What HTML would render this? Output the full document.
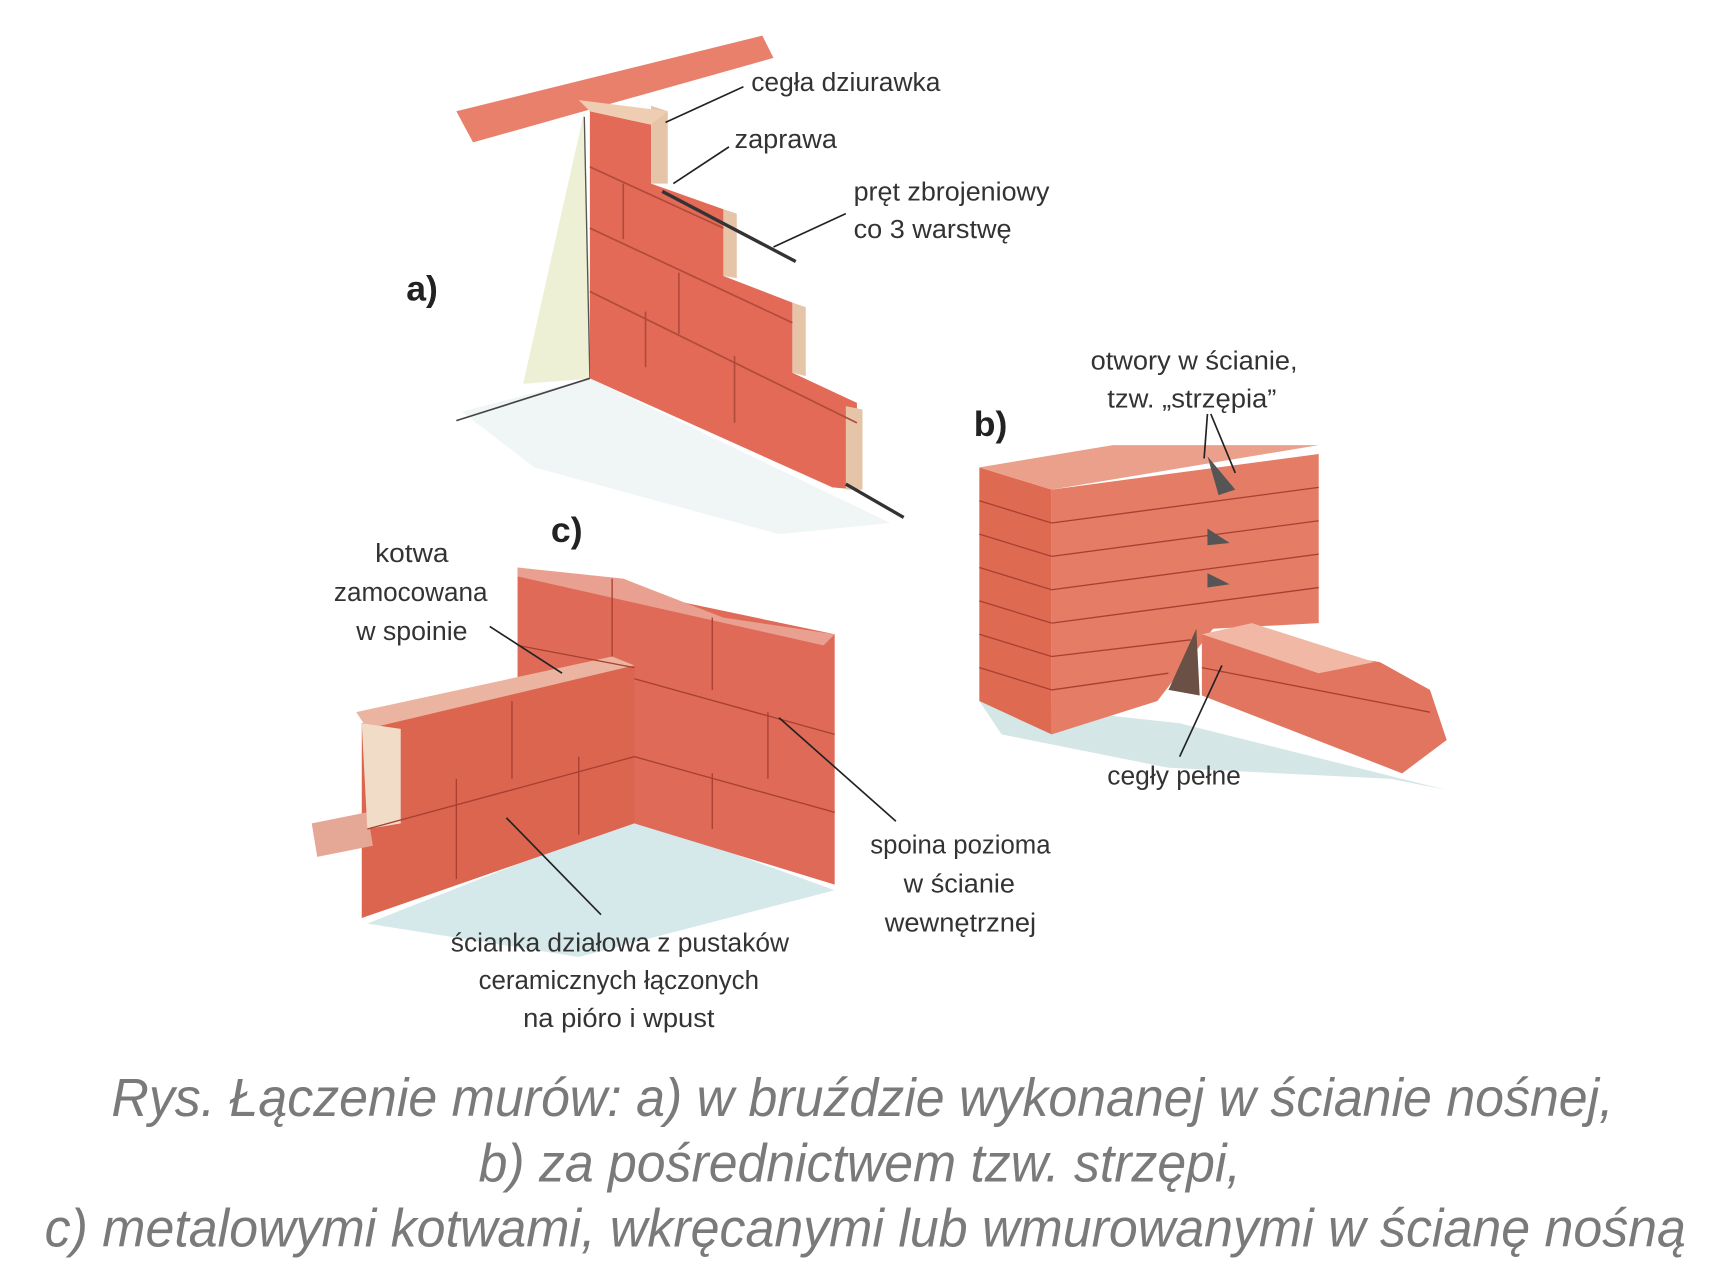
<!DOCTYPE html>
<html><head><meta charset="utf-8"><style>
html,body{margin:0;padding:0;background:#fff;}
svg{display:block}
.l{font-family:"Liberation Sans",sans-serif;font-size:23px;fill:#333;}
.b{font-family:"Liberation Sans",sans-serif;font-size:32px;font-weight:bold;fill:#222;}
.cap{font-family:"Liberation Sans",sans-serif;font-style:italic;font-size:48px;fill:#7a7a7a;}
</style></head><body>
<svg width="1725" height="1283" viewBox="0 0 1550 1153" xmlns="http://www.w3.org/2000/svg">
<rect width="1550" height="1153" fill="#fff"/>
<!-- a) -->
<polygon points="525,100 532,340 470,345" fill="#eef0d6"/>
<polygon points="415,370 530,340 800,470 700,480 480,420" fill="#e6eeee" opacity="0.6"/>
<line x1="410" y1="378" x2="530" y2="340" stroke="#444" stroke-width="1.5"/>
<line x1="525" y1="105" x2="530" y2="340" stroke="#555" stroke-width="1.2"/>
<polygon points="410,100 685,32 695,52 425,128" fill="#e8806c"/>
<polygon points="530,100 585,112 585,165 650,188 650,248 712,272 712,335 770,362 770,440 748,438 530,340" fill="#e26a56"/>
<polygon points="585,95 600,100 600,165 585,165" fill="#e6c4a8"/>
<polygon points="650,188 662,192 662,250 650,248" fill="#e6c4a8"/>
<polygon points="712,272 724,276 724,338 712,335" fill="#e6c4a8"/>
<polygon points="760,365 775,368 775,440 760,440" fill="#e6c4a8"/>
<polygon points="520,90 600,100 585,112 530,100" fill="#efcdb2"/>
<g stroke="#b24a3c" stroke-width="1.5" fill="none">
<line x1="530" y1="150" x2="650" y2="205"/><line x1="530" y1="205" x2="712" y2="290"/><line x1="530" y1="262" x2="770" y2="380"/>
<line x1="560" y1="165" x2="560" y2="215"/><line x1="610" y1="245" x2="610" y2="300"/><line x1="580" y1="280" x2="580" y2="330"/><line x1="660" y1="320" x2="660" y2="380"/>
</g>
<line x1="595" y1="172" x2="715" y2="235" stroke="#333" stroke-width="3"/>
<line x1="760" y1="435" x2="812" y2="465" stroke="#333" stroke-width="3"/>
<text class="b" x="365" y="270">a)</text>
<text class="l" x="675" y="82" textLength="170" lengthAdjust="spacingAndGlyphs">cegła dziurawka</text>
<text class="l" x="660" y="133" textLength="92" lengthAdjust="spacingAndGlyphs">zaprawa</text>
<text class="l" x="767" y="180" textLength="176" lengthAdjust="spacingAndGlyphs">pręt zbrojeniowy</text>
<text class="l" x="767" y="214" textLength="142" lengthAdjust="spacingAndGlyphs">co 3 warstwę</text>
<g stroke="#222" stroke-width="1.5"><line x1="598" y1="110" x2="668" y2="78"/><line x1="605" y1="165" x2="655" y2="132"/><line x1="695" y1="222" x2="760" y2="192"/></g>
<!-- b) -->
<polygon points="880,630 1060,650 1300,710 1250,700 1050,690 900,660" fill="#d5e6e6"/>
<polygon points="880,420 945,440 945,660 880,630" fill="#de6a52"/>
<polygon points="945,440 1185,408 1185,560 1090,565 1040,630 945,660" fill="#e57c66"/>
<polygon points="880,420 1000,400 1185,400 945,440" fill="#eba08c"/>
<polygon points="1080,570 1240,595 1285,620 1300,665 1260,695 1080,625" fill="#e27560"/>
<polygon points="1080,570 1125,560 1235,595 1185,605" fill="#f1b8a6"/>
<g stroke="#a84032" stroke-width="1.2">
<line x1="880" y1="450" x2="945" y2="470"/><line x1="880" y1="480" x2="945" y2="500"/><line x1="880" y1="510" x2="945" y2="530"/><line x1="880" y1="540" x2="945" y2="560"/><line x1="880" y1="570" x2="945" y2="590"/><line x1="880" y1="600" x2="945" y2="620"/>
<line x1="945" y1="470" x2="1185" y2="438"/><line x1="945" y1="500" x2="1185" y2="468"/><line x1="945" y1="530" x2="1185" y2="498"/><line x1="945" y1="560" x2="1185" y2="528"/><line x1="945" y1="590" x2="1070" y2="575"/><line x1="945" y1="620" x2="1050" y2="605"/>
<line x1="1080" y1="600" x2="1285" y2="640"/>
</g>
<polygon points="1085,410 1110,440 1095,445" fill="#555"/>
<polygon points="1085,475 1105,488 1085,490" fill="#555"/>
<polygon points="1085,515 1105,525 1085,528" fill="#555"/>
<polygon points="1050,620 1075,565 1078,625" fill="#6a5045"/>
<text class="b" x="875" y="392">b)</text>
<text class="l" x="980" y="332" textLength="186" lengthAdjust="spacingAndGlyphs">otwory w ścianie,</text>
<text class="l" x="995" y="366" textLength="152" lengthAdjust="spacingAndGlyphs">tzw. „strzępia”</text>
<text class="l" x="995" y="705" textLength="120" lengthAdjust="spacingAndGlyphs">cegły pełne</text>
<g stroke="#222" stroke-width="1.5"><line x1="1085" y1="372" x2="1082" y2="412"/><line x1="1088" y1="372" x2="1110" y2="425"/><line x1="1060" y1="680" x2="1098" y2="598"/></g>
<!-- c) -->
<polygon points="330,830 570,735 750,800 520,860" fill="#d6e9ea"/>
<polygon points="465,510 750,570 750,795 570,740 465,730" fill="#e06a58"/>
<polygon points="465,510 560,520 650,555 750,570 740,580 465,518" fill="#eaa090"/>
<polygon points="325,650 570,598 570,740 325,825" fill="#dc6550"/>
<polygon points="320,640 550,590 570,598 330,655" fill="#eab4a0"/>
<polygon points="280,740 330,730 335,760 285,770" fill="#e6a896"/>
<polygon points="325,650 360,655 360,740 330,745" fill="#f1dcc8"/>
<g stroke="#a84032" stroke-width="1.2">
<line x1="330" y1="745" x2="570" y2="680"/><line x1="570" y1="610" x2="750" y2="660"/><line x1="570" y1="680" x2="750" y2="730"/><line x1="465" y1="580" x2="570" y2="600"/>
<line x1="550" y1="520" x2="550" y2="590"/><line x1="640" y1="555" x2="640" y2="620"/><line x1="690" y1="640" x2="690" y2="700"/><line x1="640" y1="695" x2="640" y2="745"/>
<line x1="460" y1="630" x2="460" y2="700"/><line x1="410" y1="700" x2="410" y2="790"/><line x1="520" y1="680" x2="520" y2="750"/>
</g>
<text class="b" x="495" y="487">c)</text>
<text class="l" x="337" y="505" textLength="66" lengthAdjust="spacingAndGlyphs">kotwa</text>
<text class="l" x="300" y="540" textLength="138" lengthAdjust="spacingAndGlyphs">zamocowana</text>
<text class="l" x="320" y="575" textLength="100" lengthAdjust="spacingAndGlyphs">w spoinie</text>
<text class="l" x="782" y="767" textLength="162" lengthAdjust="spacingAndGlyphs">spoina pozioma</text>
<text class="l" x="812" y="802" textLength="100" lengthAdjust="spacingAndGlyphs">w ścianie</text>
<text class="l" x="795" y="837" textLength="136" lengthAdjust="spacingAndGlyphs">wewnętrznej</text>
<text class="l" x="405" y="855" textLength="304" lengthAdjust="spacingAndGlyphs">ścianka działowa z pustaków</text>
<text class="l" x="430" y="889" textLength="252" lengthAdjust="spacingAndGlyphs">ceramicznych łączonych</text>
<text class="l" x="470" y="923" textLength="172" lengthAdjust="spacingAndGlyphs">na pióro i wpust</text>
<g stroke="#222" stroke-width="1.5"><line x1="440" y1="563" x2="505" y2="605"/><line x1="700" y1="645" x2="805" y2="738"/><line x1="455" y1="735" x2="540" y2="822"/></g>
<!-- caption -->
<text class="cap" x="100" y="1003" textLength="1350" lengthAdjust="spacingAndGlyphs">Rys. Łączenie murów: a) w bruździe wykonanej w ścianie nośnej,</text>
<text class="cap" x="430" y="1062" textLength="685" lengthAdjust="spacingAndGlyphs">b) za pośrednictwem tzw. strzępi,</text>
<text class="cap" x="40" y="1120" textLength="1475" lengthAdjust="spacingAndGlyphs">c) metalowymi kotwami, wkręcanymi lub wmurowanymi w ścianę nośną</text>
</svg>
</body></html>
